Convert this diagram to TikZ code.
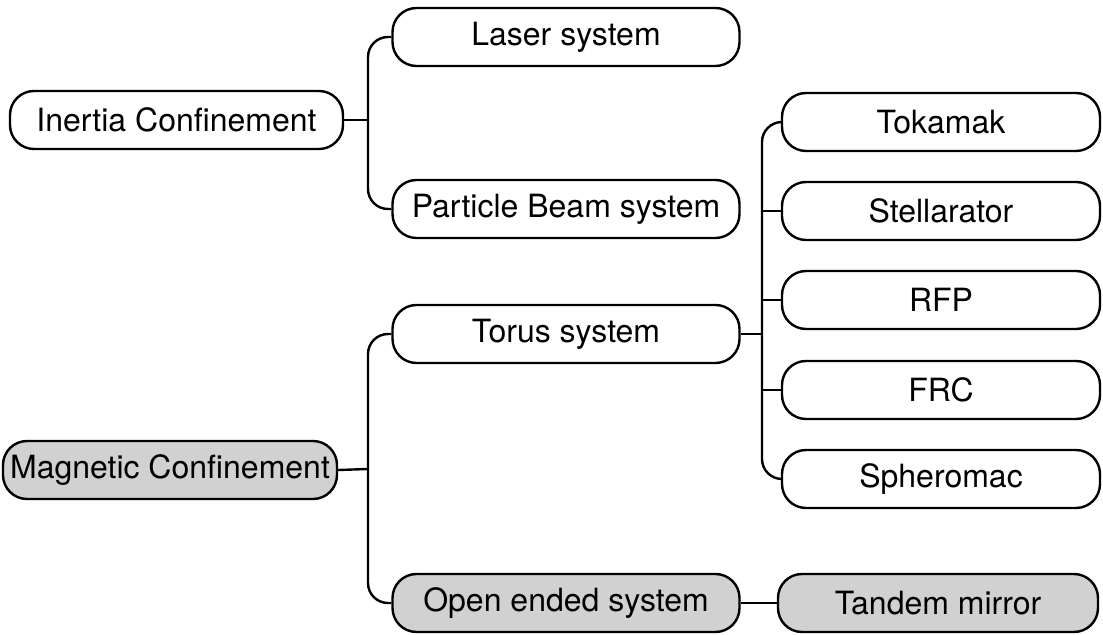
\documentclass[tikz,border=0pt]{standalone}
\usepackage{fontspec}
\setmainfont{TeX Gyre Heros}
\usetikzlibrary{positioning}

\begin{document}
\begin{tikzpicture}[x=0.5pt,y=-0.5pt,
  box/.style={draw,line width=1.2pt,rounded corners=12pt,minimum height=29pt,inner sep=0pt,font=\fontsize{16}{19}\selectfont},
  midbox/.style={box,minimum width=173.5pt},
  rightbox/.style={box,minimum width=159pt},
  shaded/.style={fill=black!18},
  link/.style={line width=1.2pt,rounded corners=10pt}]
\useasboundingbox (0,0) rectangle (1103,635);

% left column
\node[box,minimum width=166.5pt] (inertia) at (176.5,120) {Inertia Confinement};
\node[box,shaded,minimum width=167pt] (magnetic) at (170,470) {Magnetic Confinement};

% middle column
\node[midbox] (laser) at (566,37) {Laser system};
\node[midbox] (beam) at (566,209) {Particle Beam system};
\node[midbox] (torus) at (566,334) {Torus system};
\node[midbox,shaded] (open) at (566,603) {Open ended system};

% right column
\foreach \name/\txt/\y in {tok/Tokamak/122, stel/Stellarator/211, rfp/RFP/300, frc/FRC/390, sph/Spheromac/479}
  \node[rightbox] (\name) at (941,\y) {\txt};
\node[box,shaded,minimum width=160pt] (tandem) at (938,603) {Tandem mirror};

\coordinate (jA) at (368,120);
\coordinate (jB) at (368,469);
\coordinate (jC) at (762,334);

% inertia
\draw[link] (laser.west) -| (jA) |- (beam.west);
\draw[link] (inertia.east) -- (jA);

% magnetic
\draw[link] (torus.west) -| (jB) |- (open.west);
\draw[link] (magnetic.east) -- (jB);

% torus
\draw[link] (tok.west) -| (jC) |- (sph.west);
\draw[link] (torus.east) -- (jC);
\foreach \name in {stel,rfp,frc}
  \draw[link] (\name.west) -- (\name.west -| jC);

\draw[link] (open.east) -- (tandem.west);

\end{tikzpicture}
\end{document}
